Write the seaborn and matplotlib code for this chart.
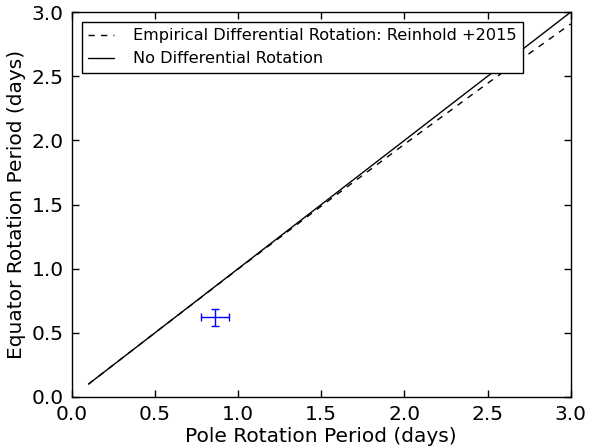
import matplotlib
matplotlib.use("Agg")
import matplotlib.pyplot as plt
import pandas as pd
import seaborn as sns

# reference lines
pole_period = [0.1, 0.5, 1.0, 1.5, 2.0, 2.5, 3.0]
no_diff_equator = [0.1, 0.5, 1.0, 1.5, 2.0, 2.5, 3.0]
reinhold_equator = [0.1, 0.5, 0.997, 1.488, 1.97, 2.445, 2.908]

# measured star
star_pole = [0.86]
star_equator = [0.62]
star_pole_err = [0.086]
star_equator_err = [0.069]

sns.set_theme(style="ticks")
plt.rcParams["font.family"] = ["DejaVu Sans"]
plt.rcParams["xtick.direction"] = "in"
plt.rcParams["ytick.direction"] = "in"
plt.rcParams["text.color"] = "black"
plt.rcParams["axes.labelcolor"] = "black"
plt.rcParams["xtick.color"] = "black"
plt.rcParams["ytick.color"] = "black"

lines = pd.DataFrame(
    {
        "pole": pole_period * 2,
        "equator": reinhold_equator + no_diff_equator,
        "model": ["Empirical Differential Rotation: Reinhold +2015"] * len(pole_period)
        + ["No Differential Rotation"] * len(pole_period),
    }
)

fig, ax = plt.subplots(figsize=(5.89, 4.48), dpi=100)
fig.subplots_adjust(left=0.122, right=0.969, bottom=0.114, top=0.973)

sns.lineplot(
    data=lines,
    x="pole",
    y="equator",
    style="model",
    dashes={"Empirical Differential Rotation: Reinhold +2015": (4.5, 4.5), "No Differential Rotation": ""},
    color="black",
    linewidth=1,
    ax=ax,
)
ax.errorbar(
    star_pole, star_equator, xerr=star_pole_err, yerr=star_equator_err,
    fmt="none", ecolor="#0000ff", elinewidth=1, capsize=3, capthick=1,
)

ax.set_xlim(0, 3)
ax.set_ylim(0, 3)
ax.set_xticks([0, 0.5, 1.0, 1.5, 2.0, 2.5, 3.0])
ax.set_yticks([0, 0.5, 1.0, 1.5, 2.0, 2.5, 3.0])
ax.tick_params(which="both", top=True, right=True, labelsize=14.5, length=5, width=1, pad=6)
for spine in ax.spines.values():
    spine.set_color("black")
    spine.set_linewidth(1)
ax.set_xlabel("Pole Rotation Period (days)", fontsize=14.5, labelpad=2)
ax.set_ylabel("Equator Rotation Period (days)", fontsize=14.5, labelpad=4)

leg = ax.legend(loc="upper left", fontsize=11.6, fancybox=False, framealpha=1, handlelength=1.6,
                handletextpad=1.2, borderaxespad=0.6)
leg.get_frame().set_edgecolor("black")
leg.set_title(None)

fig.savefig("out.png", dpi=100)
